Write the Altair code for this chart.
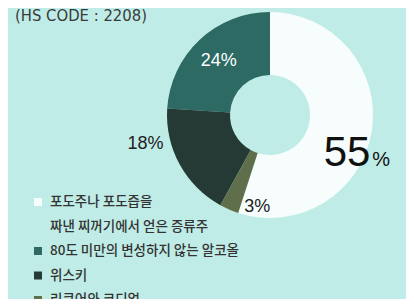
import altair as alt
import pandas as pd

# ---- data ----
title_text = "(HS CODE : 2208)"
categories = ["grape_spirit", "alcohol_80", "whisky", "liqueur"]          # legend order
legend_lines = [
    ["포도주나 포도즙을", "짜낸 찌꺼기에서 얻은 증류주"],
    ["80도 미만의 변성하지 않는 알코올"],
    ["위스키"],
    ["리큐어와 코디얼"],
]
shares = [55, 24, 18, 3]
colors = ["#f6fdfc", "#2c6a63", "#253a35", "#5f6f4c"]
pie_order = ["grape_spirit", "liqueur", "whisky", "alcohol_80"]          # clockwise from 12 o'clock

# ---- tables ----
df = pd.DataFrame({
    "category": categories,
    "share": shares,
    "slice_pos": [pie_order.index(c) for c in categories],
})

rows = []
n = 0
for cat, lines in zip(categories, legend_lines):
    for j, t in enumerate(lines):
        rows.append({"category": cat, "text": t, "line": n, "first": j == 0})
        n += 1
legend_df = pd.DataFrame(rows)
title_df = pd.DataFrame({"t": [title_text]})

CX, CY = 262, 107
color_scale = alt.Scale(domain=categories, range=colors)
theta_scale = alt.Scale(domain=[0, 100])

arcs = alt.Chart(df).mark_arc(innerRadius=40, outerRadius=103).encode(
    theta=alt.Theta("share:Q", stack=True, scale=theta_scale),
    order=alt.Order("slice_pos:Q"),
    color=alt.Color("category:N", scale=color_scale, legend=None),
    x=alt.value(CX),
    y=alt.value(CY),
)

base = alt.Chart(df).transform_window(
    cum="sum(share)", sort=[alt.SortField("slice_pos")], frame=[None, 0]
).transform_calculate(
    mid="datum.cum - datum.share / 2",
    label="datum.share + '%'",
    num="datum.share + ''",
    pct="'%'",
)


def label_layer(cat, field, radius, dx, dy, size, color):
    return base.transform_filter(alt.datum.category == cat).mark_text(
        radius=radius, dx=dx, dy=dy, fontSize=size, color=color,
        font="Liberation Sans", align="center", baseline="middle",
    ).encode(
        theta=alt.Theta("mid:Q", scale=theta_scale),
        text=alt.Text(f"{field}:N"),
        x=alt.value(CX),
        y=alt.value(CY),
    )


labels = [
    label_layer("alcohol_80", "label", 75, 0, 1, 18, "#ffffff"),
    label_layer("whisky", "label", 125, -15, -31, 18, "#222222"),
    label_layer("liqueur", "label", 100, 27, 0, 18, "#222222"),
    label_layer("grape_spirit", "num", 78, 0, 26, 42, "#111111"),
    label_layer("grape_spirit", "pct", 78, 34, 33, 20, "#111111"),
]

y_scale = alt.Scale(domain=[0, 4], range=[194, 292])

squares = alt.Chart(legend_df).transform_filter(alt.datum.first).mark_square(
    size=64, opacity=1
).encode(
    x=alt.value(30),
    y=alt.Y("line:Q", scale=y_scale, axis=None),
    color=alt.Color("category:N", scale=color_scale, legend=None),
)

legend_text = alt.Chart(legend_df).mark_text(
    align="left", baseline="middle", font="Noto Sans CJK KR", fontSize=13.5,
    fontWeight=500, color="#333333"
).encode(
    x=alt.value(42),
    y=alt.Y("line:Q", scale=y_scale, axis=None),
    text="text:N",
)

title = alt.Chart(title_df).mark_text(
    align="left", baseline="alphabetic", font="DejaVu Sans Condensed, Liberation Sans",
    fontSize=16.5, color="#3a3a3a"
).encode(
    x=alt.value(7),
    y=alt.value(13),
    text="t:N",
)

chart = alt.layer(arcs, *labels, squares, legend_text, title).properties(
    width=398, height=291,
    autosize=alt.AutoSizeParams(type="none"),
    padding=0,
    background="#bfece6",
).configure_view(stroke=None)

chart.save("out.html", embed_options={"renderer": "svg", "actions": False})
